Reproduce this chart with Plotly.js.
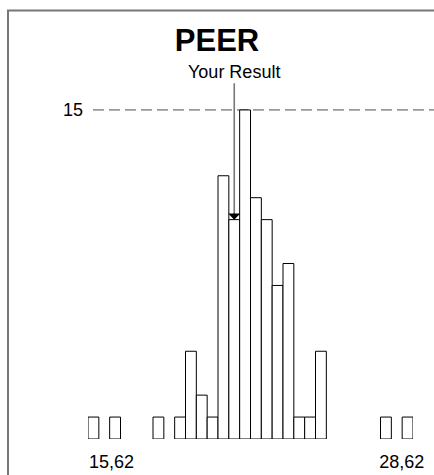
<!DOCTYPE html>
<html>
<head>
<meta charset="utf-8">
<script src="https://cdn.plot.ly/plotly-3.0.1.min.js"></script>
<style>html,body{margin:0;padding:0;background:#fff;}#chart{width:434px;height:475px;}</style>
</head>
<body>
<div id="chart"></div>
<script>
// Histogram bins (index) and counts
var binIndex = [0,1,2,3,4,5,6,7,8,9,10,11,12,13,14,15,16,17,18,19,20,21,22,23,24,25,26,27,28,29];
var counts   = [1,0,1,0,0,0,1,0,1,4,2,1,12,10,15,11,10,7,8,1,1,4,0,0,0,0,0,1,0,1];
// x-axis labels (min / max) and where they sit on the bin scale
var xTickText = ['15,62', '28,62'];
var xTickVals = [1.67, 28.46];
// y reference level
var refLevel = 15;
var refLabel = ['15'];
// "Your Result" marker
var resultBin = 13;
var resultLabel = 'Your Result';
var titleText = 'PEER';

var FONT = 'Liberation Sans, Arial, Helvetica, sans-serif';

// empty bins are not drawn (no outline on the baseline)
var shownCounts = counts.map(function (c) { return c > 0 ? c : null; });

var trace = {
  type: 'bar',
  x: binIndex,
  y: shownCounts,
  width: 1,
  marker: {color: '#ffffff', line: {color: '#000000', width: 1}},
  cliponaxis: false,
  hoverinfo: 'skip'
};

var layout = {
  width: 434, height: 475,
  margin: {l: 88, r: 21, t: 88, b: 36, pad: 0},
  paper_bgcolor: '#ffffff', plot_bgcolor: '#ffffff',
  showlegend: false,
  bargap: 0,
  title: {
    text: '<b>' + titleText + '</b>',
    font: {family: FONT, size: 31, color: '#000'},
    xref: 'container', x: 0.5, xanchor: 'center',
    yref: 'container', y: 1 - 40/475, yanchor: 'middle'
  },
  xaxis: {
    range: [-0.5, 29.5],
    showgrid: false, zeroline: false, showline: false,
    tickvals: xTickVals, ticktext: xTickText,
    ticks: 'outside', ticklen: 6, tickcolor: 'rgba(0,0,0,0)',
    tickfont: {family: FONT, size: 18, color: '#000'},
    fixedrange: true
  },
  yaxis: {
    range: [0, 16],
    showgrid: false, zeroline: false, showline: false,
    tickvals: [refLevel], ticktext: refLabel,
    ticks: '', ticklabelstandoff: 4,
    tickfont: {family: FONT, size: 18, color: '#000'},
    fixedrange: true
  },
  shapes: [
    {type: 'line', xref: 'paper', yref: 'y', x0: 5/325, x1: 1.2, y0: refLevel, y1: refLevel,
     line: {color: '#999999', width: 1.7, dash: '11px,5px'}, layer: 'below'},
    {type: 'rect', xref: 'paper', yref: 'paper', x0: -80/325, x1: 1.5, y0: -0.3, y1: 1 + 77.5/351,
     line: {color: '#777777', width: 2}, fillcolor: 'rgba(0,0,0,0)'}
  ],
  annotations: [
    {x: resultBin, y: counts[resultBin], xref: 'x', yref: 'y',
     text: resultLabel, showarrow: true, arrowhead: 0, arrowwidth: 1.6,
     arrowcolor: '#777777', ax: 0, ay: -148, standoff: 4,
     font: {family: FONT, size: 18, color: '#000'}},
    {x: resultBin, y: counts[resultBin], xref: 'x', yref: 'y',
     text: ' ', showarrow: true, arrowhead: 1, arrowsize: 1.35, arrowwidth: 1.5,
     arrowcolor: '#000000', ax: 0, ay: -8, standoff: 0,
     font: {family: FONT, size: 1, color: '#000'}}
  ]
};

Plotly.newPlot('chart', [trace], layout, {staticPlot: true, displayModeBar: false});
</script>
</body>
</html>
